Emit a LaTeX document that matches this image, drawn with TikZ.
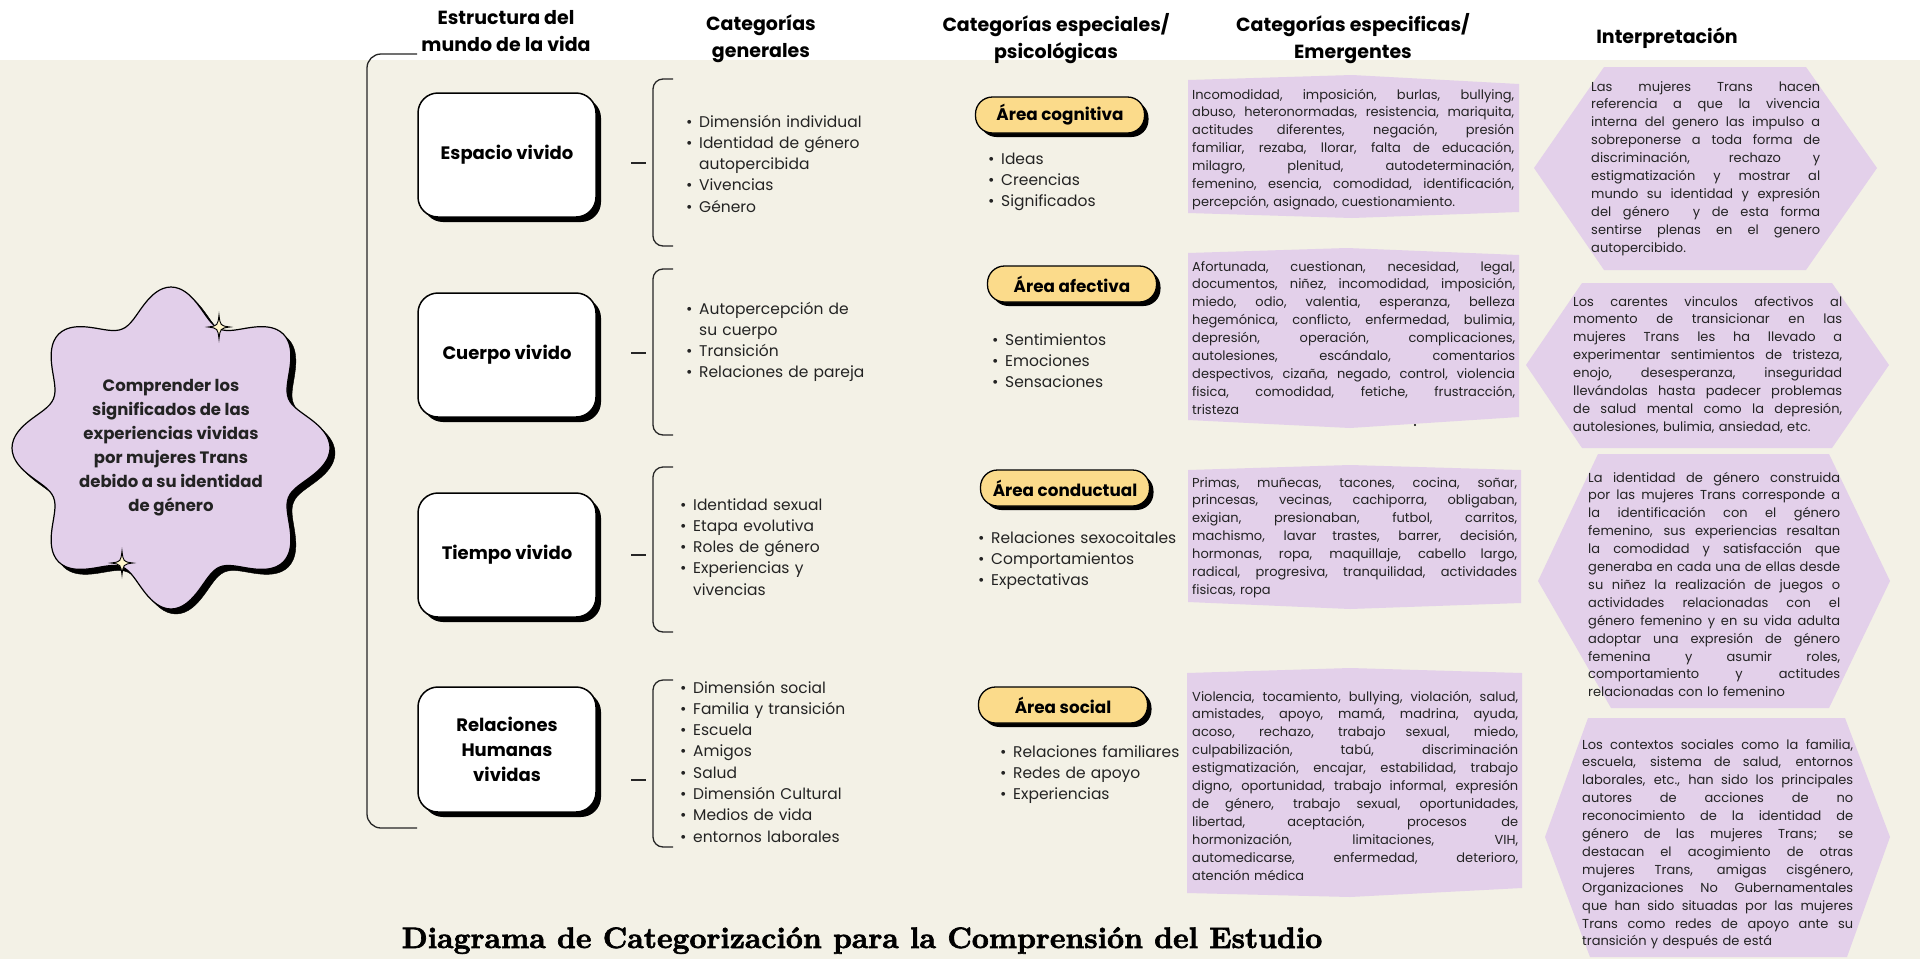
\documentclass[tikz,border=0pt]{standalone}
\usepackage{fontspec}
\newfontfamily\pop{Poppins}
\newfontfamily\ttl{lmroman10-bold}[Extension=.otf, FakeBold=2.2]
\usetikzlibrary{shadows}
\definecolor{beige}{RGB}{243,241,230}
\definecolor{lila}{RGB}{227,208,234}
\definecolor{blob}{RGB}{226,207,234}
\definecolor{yel}{RGB}{251,219,139}
\definecolor{cream}{RGB}{255,246,204}
\definecolor{ink}{RGB}{35,35,35}
\newlength\jw
\hbadness=10000
\newcommand\bu[1]{\makebox[13pt][l]{\textbullet}#1}
\newcommand\bi[1]{\hspace*{13pt}#1}
\newcommand\J[1]{\leavevmode\hbox to \jw{\spaceskip=0.27em plus 1em minus 0.05em\xspaceskip=\spaceskip\relax #1}}
\begin{document}
\begin{tikzpicture}[x=1pt,y=-1pt,
  hdr/.style={font=\pop\bfseries\fontsize{19}{27}\selectfont, align=center, text=black},
  wbox/.style={draw=black, line width=1.5pt, fill=white, rounded corners=20pt,
    minimum width=178pt, minimum height=124pt,
    drop shadow={shadow xshift=5pt, shadow yshift=-5pt, fill=black, opacity=1},
    font=\pop\bfseries\fontsize{18}{25}\selectfont, align=center},
  pill/.style={draw=black, line width=1.3pt, fill=yel, rounded corners=17pt,
    minimum width=169pt, minimum height=36pt,
    drop shadow={shadow xshift=4pt, shadow yshift=-4pt, fill=black, opacity=1},
    font=\pop\bfseries\fontsize{16.8}{18}\selectfont},
  blist/.style={anchor=base west, inner sep=0pt, text width=240pt, align=left,
    font=\pop\fontsize{15.5}{21.3}\selectfont, text=ink},
  jtext/.style={anchor=base west, inner sep=0pt, align=left,
    font=\pop\fontsize{13}{17.9}\selectfont, text=ink},
  brk/.style={draw=black!85, line width=1.3pt},
  sparkle/.style={fill=cream, draw=black, line width=0.9pt}
]
\useasboundingbox (0,0) rectangle (1920,959);
\fill[white] (0,0) rectangle (1920,959);
\fill[beige] (0,60) rectangle (1920,959);

% headers
\node[hdr] (h-est) at (506,31) {Estructura del\\mundo de la vida};
\node[hdr] (h-gen) at (761,39) {Categorías\\generales};
\node[hdr] (h-esp) at (1056,39) {Categorías especiales/\\psicológicas};
\node[hdr] (h-eme) at (1353,39) {Categorías especificas/\\Emergentes};
\node[hdr] (h-int) at (1667,38) {Interpretación};

% blob
\filldraw[fill=black, draw=black] plot[domain=0:360, samples=241, smooth, variable=\t]
  ({176+159*(0.9+0.1*cos(8*\t))*cos(\t)}, {453+161*(0.9+0.1*cos(8*\t))*sin(\t)}) -- cycle;
\filldraw[fill=blob, draw=black, line width=1.2pt] plot[domain=0:360, samples=241, smooth, variable=\t]
  ({171+159*(0.9+0.1*cos(8*\t))*cos(\t)}, {448+161*(0.9+0.1*cos(8*\t))*sin(\t)}) -- cycle;
\node[font=\pop\bfseries\fontsize{16.5}{24}\selectfont, align=center, text=ink] (goal) at (171,448)
  {Comprender los\\significados de las\\experiencias vividas\\por mujeres Trans\\debido a su identidad\\de género};
\begin{scope}[shift={(219,327)}]
\filldraw[sparkle] (0,-12) .. controls (1.3,-1.3) .. (11,0) .. controls (1.3,1.3) .. (0,12) .. controls (-1.3,1.3) .. (-11,0) .. controls (-1.3,-1.3) .. (0,-12) -- cycle;
\end{scope}
\begin{scope}[shift={(122,563)}]
\filldraw[sparkle] (0,-12) .. controls (1.3,-1.3) .. (11,0) .. controls (1.3,1.3) .. (0,12) .. controls (-1.3,1.3) .. (-11,0) .. controls (-1.3,-1.3) .. (0,-12) -- cycle;
\end{scope}

% big bracket
\draw[brk, rounded corners=14pt] (417,54) -- (367,54) -- (367,828) -- (417,828);

% boxes
\node[wbox] (e1) at (507,155) {Espacio vivido};
\node[wbox] (e2) at (507,355) {Cuerpo vivido};
\node[wbox] (e3) at (507,555) {Tiempo vivido};
\node[wbox, minimum height=125pt] (e4) at (507,749.5) {Relaciones\\Humanas\\vividas};

% dashes
\foreach \n/\y in {1/163,2/353,3/555,4/780}{
  \coordinate (d\n a) at (631,\y);
  \coordinate (d\n b) at (646,\y);
  \draw[brk] (d\n a) -- (d\n b);
}

% small brackets
\draw[brk, rounded corners=10pt] (673,79) -- (653,79) -- (653,246) -- (673,246);
\draw[brk, rounded corners=10pt] (673,269) -- (653,269) -- (653,435) -- (673,435);
\draw[brk, rounded corners=10pt] (673,467) -- (653,467) -- (653,632) -- (673,632);
\draw[brk, rounded corners=10pt] (673,680) -- (653,680) -- (653,847) -- (673,847);

% general lists
\node[blist] (g1) at (686,127) {\bu{Dimensión individual}\\\bu{Identidad de género}\\\bi{autopercibida}\\\bu{Vivencias}\\\bu{Género}};
\node[blist] (g2) at (686,314) {\bu{Autopercepción de}\\\bi{su cuerpo}\\\bu{Transición}\\\bu{Relaciones de pareja}};
\node[blist] (g3) at (680,510) {\bu{Identidad sexual}\\\bu{Etapa evolutiva}\\\bu{Roles de género}\\\bu{Experiencias y}\\\bi{vivencias}};
\node[blist] (g4) at (680,693) {\bu{Dimensión social}\\\bu{Familia y transición}\\\bu{Escuela}\\\bu{Amigos}\\\bu{Salud}\\\bu{Dimensión Cultural}\\\bu{Medios de vida}\\\bu{entornos laborales}};

% pills
\node[pill] (p1) at (1060,115) {Área cognitiva};
\node[pill] (p2) at (1072,284) {Área afectiva};
\node[pill] (p3) at (1065,488) {Área conductual};
\node[pill] (p4) at (1063,705) {Área social};

% special lists
\node[blist] (s1) at (988,164) {\bu{Ideas}\\\bu{Creencias}\\\bu{Significados}};
\node[blist] (s2) at (992,345) {\bu{Sentimientos}\\\bu{Emociones}\\\bu{Sensaciones}};
\node[blist] (s3) at (978,543) {\bu{Relaciones sexocoitales}\\\bu{Comportamientos}\\\bu{Expectativas}};
\node[blist] (s4) at (1000,757) {\bu{Relaciones familiares}\\\bu{Redes de apoyo}\\\bu{Experiencias}};

% emergent boxes
\fill[lila] (1188,80) -- (1352,75) -- (1519,84) -- (1519,212) -- (1352,218) -- (1188,213) -- cycle;
\fill[lila] (1188,253) -- (1347,248) -- (1519,255) -- (1519,417) -- (1350,428) -- (1188,420) -- cycle;
\fill[lila] (1188,470) -- (1350,465) -- (1521,470) -- (1521,603) -- (1350,609) -- (1188,602) -- cycle;
\fill[lila] (1187,673) -- (1350,668) -- (1522,673) -- (1522,888) -- (1350,897) -- (1187,893) -- cycle;
\fill[black] (1415,425) circle (1.1);

\setlength\jw{322pt}
\node[jtext, text width=330pt] (q1) at (1192,99) {%
\J{Incomodidad, imposición, burlas, bullying,}\\
\J{abuso, heteronormadas, resistencia, mariquita,}\\
\J{actitudes diferentes, negación, presión}\\
\J{familiar, rezaba, llorar, falta de educación,}\\
\J{milagro, plenitud, autodeterminación,}\\
\J{femenino, esencia, comodidad, identificación,}\\
percepción, asignado, cuestionamiento.};

\setlength\jw{323pt}
\node[jtext, text width=330pt] (q2) at (1192,271) {%
\J{Afortunada, cuestionan, necesidad, legal,}\\
\J{documentos, niñez, incomodidad, imposición,}\\
\J{miedo, odio, valentia, esperanza, belleza}\\
\J{hegemónica, conflicto, enfermedad, bulimia,}\\
\J{depresión, operación, complicaciones,}\\
\J{autolesiones, escándalo, comentarios}\\
\J{despectivos, cizaña, negado, control, violencia}\\
\J{fisica, comodidad, fetiche, frustracción,}\\
tristeza};

\setlength\jw{325pt}
\node[jtext, text width=330pt] (q3) at (1192,487) {%
\J{Primas, muñecas, tacones, cocina, soñar,}\\
\J{princesas, vecinas,  cachiporra, obligaban,}\\
\J{exigian, presionaban, futbol, carritos,}\\
\J{machismo, lavar trastes, barrer, decisión,}\\
\J{hormonas, ropa, maquillaje, cabello largo,}\\
\J{radical, progresiva, tranquilidad, actividades}\\
fisicas, ropa};

\setlength\jw{326pt}
\node[jtext, text width=330pt] (q4) at (1192,701) {%
\J{Violencia, tocamiento, bullying, violación, salud,}\\
\J{amistades, apoyo, mamá, madrina, ayuda,}\\
\J{acoso, rechazo, trabajo sexual, miedo,}\\
\J{culpabilización, tabú, discriminación}\\
\J{estigmatización, encajar, estabilidad, trabajo}\\
\J{digno, oportunidad, trabajo informal, expresión}\\
\J{de género, trabajo sexual, oportunidades,}\\
\J{libertad, aceptación, procesos de}\\
\J{hormonización, limitaciones, VIH,}\\
\J{automedicarse, enfermedad, deterioro,}\\
atención médica};

% hexagons
\fill[lila] (1604,67) -- (1806,67) -- (1877,168) -- (1806,270) -- (1604,270) -- (1534,168) -- cycle;
\fill[lila] (1582,283) -- (1832,283) -- (1889,365) -- (1832,448) -- (1582,448) -- (1526,365) -- cycle;
\fill[lila] (1598,454) -- (1829,454) -- (1890,581) -- (1829,708) -- (1611,708) -- (1538,581) -- cycle;
\fill[lila] (1588,718) -- (1845,718) -- (1890,837) -- (1847,957) -- (1590,957) -- (1545,837) -- cycle;

\setlength\jw{229pt}
\node[jtext, text width=235pt] (i1) at (1591,91) {%
\J{Las mujeres Trans hacen}\\
\J{referencia a que la vivencia}\\
\J{interna del genero las impulso a}\\
\J{sobreponerse a toda forma de}\\
\J{discriminación, rechazo y}\\
\J{estigmatización y mostrar al}\\
\J{mundo su identidad y expresión}\\
\J{del género \ y de esta forma}\\
\J{sentirse plenas en el genero}\\
autopercibido.};

\setlength\jw{269pt}
\node[jtext, text width=275pt] (i2) at (1573,306) {%
\J{Los carentes vinculos afectivos al}\\
\J{momento de transicionar en las}\\
\J{mujeres Trans les ha llevado a}\\
\J{experimentar sentimientos de tristeza,}\\
\J{enojo, desesperanza, inseguridad}\\
\J{llevándolas hasta padecer problemas}\\
\J{de salud mental como la depresión,}\\
autolesiones, bulimia, ansiedad, etc.};

\setlength\jw{252pt}
\node[jtext, text width=260pt] (i3) at (1588,482) {%
\J{La identidad de género construida}\\
\J{por las mujeres Trans corresponde a}\\
\J{la identificación con el género}\\
\J{femenino, sus experiencias resaltan}\\
\J{la comodidad y satisfacción que}\\
\J{generaba en cada una de ellas desde}\\
\J{su niñez la realización de juegos o}\\
\J{actividades relacionadas con el}\\
\J{género femenino y en su vida adulta}\\
\J{adoptar una expresión de género}\\
\J{femenina y asumir roles,}\\
\J{comportamiento y actitudes}\\
relacionadas con lo femenino};

\setlength\jw{271pt}
\node[jtext, text width=280pt] (i4) at (1582,749) {%
\J{Los contextos sociales como la familia,}\\
\J{escuela, sistema de salud, entornos}\\
\J{laborales, etc., han sido los principales}\\
\J{autores de acciones de no}\\
\J{reconocimiento de la identidad de}\\
\J{género de las mujeres Trans; se}\\
\J{destacan el acogimiento de otras}\\
\J{mujeres Trans, amigas cisgénero,}\\
\J{Organizaciones No Gubernamentales}\\
\J{que han sido situadas por las mujeres}\\
\J{Trans como redes de apoyo ante su}\\
transición y después de está};

% title
\node[anchor=base, font=\ttl\fontsize{29.5}{36}\selectfont] (title) at (862,948)
  {Diagrama de Categorización para la Comprensión del Estudio};
\end{tikzpicture}
\end{document}
